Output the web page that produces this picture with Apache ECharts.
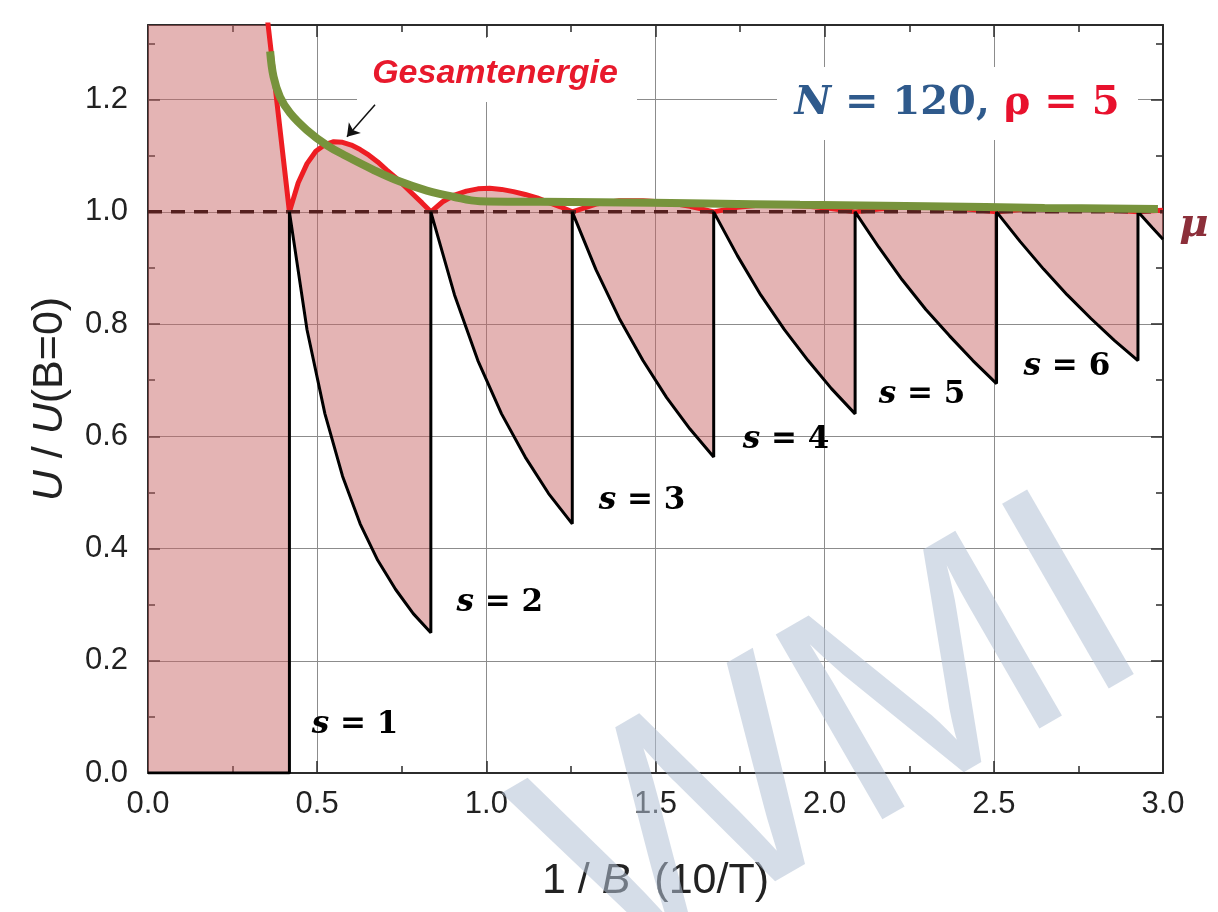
<!DOCTYPE html>
<html>
<head>
<meta charset="utf-8">
<title>Gesamtenergie</title>
<script src="https://cdn.jsdelivr.net/npm/echarts@6/dist/echarts.min.js"></script>
<style>
  html, body { margin: 0; background: #fff; }
  #chart { width: 1218px; height: 912px; }
</style>
</head>
<body>
<div id="chart"></div>
<script>
// black sawtooth, 1/B (10/T) vs U/U(B=0); jumps are repeated x values
const blackX = [
  0, 0.418,
  0.418, 0.470, 0.523, 0.575, 0.627, 0.679, 0.732, 0.784, 0.836,
  0.836, 0.906, 0.975, 1.045, 1.115, 1.184, 1.254,
  1.254, 1.324, 1.393, 1.463, 1.533, 1.602, 1.672,
  1.672, 1.742, 1.811, 1.881, 1.951, 2.020, 2.090,
  2.090, 2.160, 2.229, 2.299, 2.369, 2.438, 2.508,
  2.508, 2.578, 2.647, 2.717, 2.787, 2.856, 2.926,
  2.926, 2.968, 3.0
];
const blackY = [
  0, 0,
  1, 0.790, 0.640, 0.529, 0.444, 0.379, 0.327, 0.284, 0.25,
  1, 0.852, 0.735, 0.640, 0.563, 0.498, 0.444,
  1, 0.897, 0.810, 0.735, 0.669, 0.613, 0.563,
  1, 0.922, 0.852, 0.790, 0.735, 0.685, 0.640,
  1, 0.937, 0.879, 0.826, 0.779, 0.735, 0.694,
  1, 0.947, 0.898, 0.852, 0.810, 0.771, 0.735,
  1, 0.972, 0.951
];
// red "Gesamtenergie"
const redX = [
  0, 0.345, 0.418,
  0.444, 0.470, 0.496, 0.523, 0.549, 0.575, 0.601, 0.627, 0.653, 0.679, 0.705, 0.732, 0.758, 0.784, 0.810, 0.836,
  0.871, 0.906, 0.941, 0.975, 1.010, 1.045, 1.080, 1.115, 1.150, 1.184, 1.219, 1.254,
  1.324, 1.393, 1.463, 1.533, 1.602, 1.672,
  1.742, 1.811, 1.881, 1.951, 2.020, 2.090,
  2.160, 2.229, 2.299, 2.369, 2.438, 2.508,
  2.578, 2.647, 2.717, 2.787, 2.856, 2.926,
  2.968, 3.0
];
const redY = [
  1.386, 1.386, 1.0,
  1.052, 1.086, 1.108, 1.120, 1.125, 1.124, 1.119, 1.111, 1.101, 1.089, 1.075, 1.061, 1.046, 1.031, 1.016, 1.0,
  1.018, 1.030, 1.037, 1.041, 1.042, 1.040, 1.036, 1.031, 1.025, 1.017, 1.009, 1.0,
  1.014, 1.020, 1.020, 1.017, 1.010, 1.0,
  1.008, 1.012, 1.012, 1.010, 1.006, 1.0,
  1.005, 1.008, 1.008, 1.007, 1.004, 1.0,
  1.004, 1.006, 1.006, 1.005, 1.003, 1.0,
  1.002, 1.003
];
// green envelope
const greenX = [0.361, 0.371, 0.390, 0.420, 0.469, 0.528, 0.587, 0.666, 0.745, 0.824, 0.902, 0.981, 1.159, 1.336, 1.65, 1.927, 2.3, 2.65, 2.985];
const greenY = [1.286, 1.241, 1.205, 1.176, 1.146, 1.119, 1.099, 1.075, 1.054, 1.038, 1.027, 1.019, 1.018, 1.017, 1.015, 1.0125, 1.010, 1.007, 1.005];
// chemical potential level
const muX = [0, 3];
const muY = [1, 1];
// s labels
const sNum = [1, 2, 3, 4, 5, 6];
const sLabelX = [0.612, 1.040, 1.460, 1.886, 2.288, 2.716];
const sLabelY = [0.086, 0.303, 0.485, 0.594, 0.674, 0.724];
// arrow pointing at the first maximum
const arrowFrom = [0.671, 1.191];
const arrowTo = [0.588, 1.134];

const zip = (a, b) => a.map((v, i) => [v, b[i]]);

const dark = '#2b2b2b';
const tickStyle = { color: dark, width: 1.5 };

function xAxisDef(pos) {
  return {
    type: 'value', min: 0, max: 3, interval: 0.5, position: pos,
    axisLine: { show: true, onZero: false, lineStyle: { color: dark, width: 2 } },
    axisTick: { show: true, inside: true, length: 12, lineStyle: tickStyle },
    minorTick: { show: true, splitNumber: 2, length: 7, lineStyle: tickStyle },
    splitLine: { show: pos === 'bottom', lineStyle: { color: '#8c8c8c', width: 1 } },
    axisLabel: {
      show: pos === 'bottom', fontFamily: 'Liberation Sans', fontSize: 31, color: '#222', margin: 16,
      formatter: v => v.toFixed(1)
    }
  };
}
function yAxisDef(pos) {
  return {
    type: 'value', min: 0, max: 1.333, interval: 0.2, position: pos,
    axisLine: { show: true, onZero: false, lineStyle: { color: dark, width: 2 } },
    axisTick: { show: true, inside: true, length: 12, lineStyle: tickStyle },
    minorTick: { show: true, splitNumber: 2, length: 7, lineStyle: tickStyle },
    splitLine: { show: pos === 'left', lineStyle: { color: '#8c8c8c', width: 1 } },
    axisLabel: {
      show: pos === 'left', showMaxLabel: false, fontFamily: 'Liberation Sans', fontSize: 31, color: '#222', margin: 20,
      formatter: v => v.toFixed(1)
    }
  };
}

const xBottom = xAxisDef('bottom');
xBottom.name = '1 / {i|B}  (10/T)';
xBottom.nameLocation = 'middle';
xBottom.nameGap = 87;
xBottom.nameTextStyle = {
  fontFamily: 'Liberation Sans', fontSize: 43, color: '#222',
  rich: { i: { fontFamily: 'Liberation Sans', fontSize: 43, fontStyle: 'italic', color: '#222' } }
};
const yLeft = yAxisDef('left');
yLeft.name = '{i|U} / {i|U}(B=0)';
yLeft.nameLocation = 'middle';
yLeft.nameRotate = 90;
yLeft.nameGap = 76;
yLeft.nameTextStyle = {
  fontFamily: 'Liberation Sans', fontSize: 43, color: '#222',
  rich: { i: { fontFamily: 'Liberation Sans', fontSize: 43, fontStyle: 'italic', color: '#222' } }
};

const labelFont = { fontFamily: 'DejaVu Serif', fontWeight: 'bold', fontSize: 31, color: '#000', textBorderWidth: 0, opacity: 1 };

const chart = echarts.init(document.getElementById('chart'));
chart.setOption({
  animation: false,
  backgroundColor: '#fff',
  grid: { left: 148, right: 55, top: 25, bottom: 139 },
  xAxis: [xBottom, xAxisDef('top')],
  yAxis: [yLeft, yAxisDef('right')],
  series: [
    {
      // shaded region between the red curve and the black sawtooth
      name: 'band', type: 'custom', z: 2, clip: true, silent: true,
      data: [[0, 0]],
      renderItem: (params, api) => {
        const pts = redX.map((x, i) => api.coord([x, redY[i]]));
        for (let i = blackX.length - 1; i >= 0; i--) pts.push(api.coord([blackX[i], blackY[i]]));
        return { type: 'polygon', shape: { points: pts }, style: { fill: 'rgba(198,98,98,0.48)' } };
      }
    },
    {
      name: 'sawtooth', type: 'line', z: 5,
      data: zip(blackX, blackY), symbol: 'none',
      lineStyle: { color: '#000', width: 3 }
    },
    {
      name: 'Gesamtenergie', type: 'line', z: 3,
      data: zip(redX, redY), symbol: 'none',
      lineStyle: { color: '#ee1d23', width: 5 }
    },
    {
      name: 'mu', type: 'line', z: 4,
      data: zip(muX, muY), symbol: 'none',
      lineStyle: { color: '#55201f', width: 3.5, type: [14, 9] }
    },
    {
      name: 'envelope', type: 'line', z: 6, smooth: 0.4,
      data: zip(greenX, greenY), symbol: 'none',
      lineStyle: { color: '#77933c', width: 8 },
      markLine: {
        silent: true, animation: false, z: 7,
        symbol: ['none', 'arrow'], symbolSize: 12,
        label: { show: false },
        lineStyle: { color: '#111', width: 1.5, type: 'solid' },
        data: [[{ coord: arrowFrom }, { coord: arrowTo }]]
      }
    },
    {
      name: 'labels', type: 'scatter', z: 8, silent: true,
      data: zip(sLabelX, sLabelY), symbolSize: 1, itemStyle: { color: '#fff', opacity: 1 },
      label: Object.assign({
        show: true, position: 'inside',
        formatter: p => '{i|s} = ' + sNum[p.dataIndex],
        rich: { i: Object.assign({}, labelFont, { fontStyle: 'italic' }) }
      }, labelFont)
    }
  ],
  graphic: [
    { type: 'rect', z: 1, shape: { x: 357, y: 38, width: 280, height: 64 }, style: { fill: '#fff' } },
    { type: 'rect', z: 1, shape: { x: 777, y: 67, width: 361, height: 73 }, style: { fill: '#fff' } },
    {
      type: 'text', z: 20, x: 495, y: 74,
      style: {
        text: 'Gesamtenergie', fontFamily: 'Liberation Sans', fontWeight: 'bold', fontStyle: 'italic',
        fontSize: 34, fill: '#e8192c', align: 'center', verticalAlign: 'middle'
      }
    },
    {
      type: 'text', z: 20, x: 957, y: 104,
      style: {
        text: '{n|N}{b| = 120,}{r| ρ = 5}', align: 'center', verticalAlign: 'middle',
        rich: {
          n: { fontFamily: 'DejaVu Serif', fontWeight: 'bold', fontStyle: 'italic', fontSize: 40, fill: '#2f5a8c', color: '#2f5a8c' },
          b: { fontFamily: 'DejaVu Serif', fontWeight: 'bold', fontSize: 40, fill: '#2f5a8c', color: '#2f5a8c' },
          r: { fontFamily: 'DejaVu Serif', fontWeight: 'bold', fontSize: 40, fill: '#e8112d', color: '#e8112d' }
        }
      }
    },
    {
      type: 'text', z: 20, x: 1194, y: 226,
      style: {
        text: 'μ', fontFamily: 'DejaVu Serif', fontWeight: 'bold', fontStyle: 'italic',
        fontSize: 40, fill: '#8c2f3a', align: 'center', verticalAlign: 'middle'
      }
    },
    {
      type: 'text', z: 100, x: 840, y: 745, rotation: Math.PI / 6, silent: true,
      style: {
        text: 'WMI', fontFamily: 'Liberation Sans', fontSize: 310,
        fill: 'rgba(178,193,214,0.55)',
        align: 'center', verticalAlign: 'middle'
      }
    }
  ]
});
</script>
</body>
</html>
